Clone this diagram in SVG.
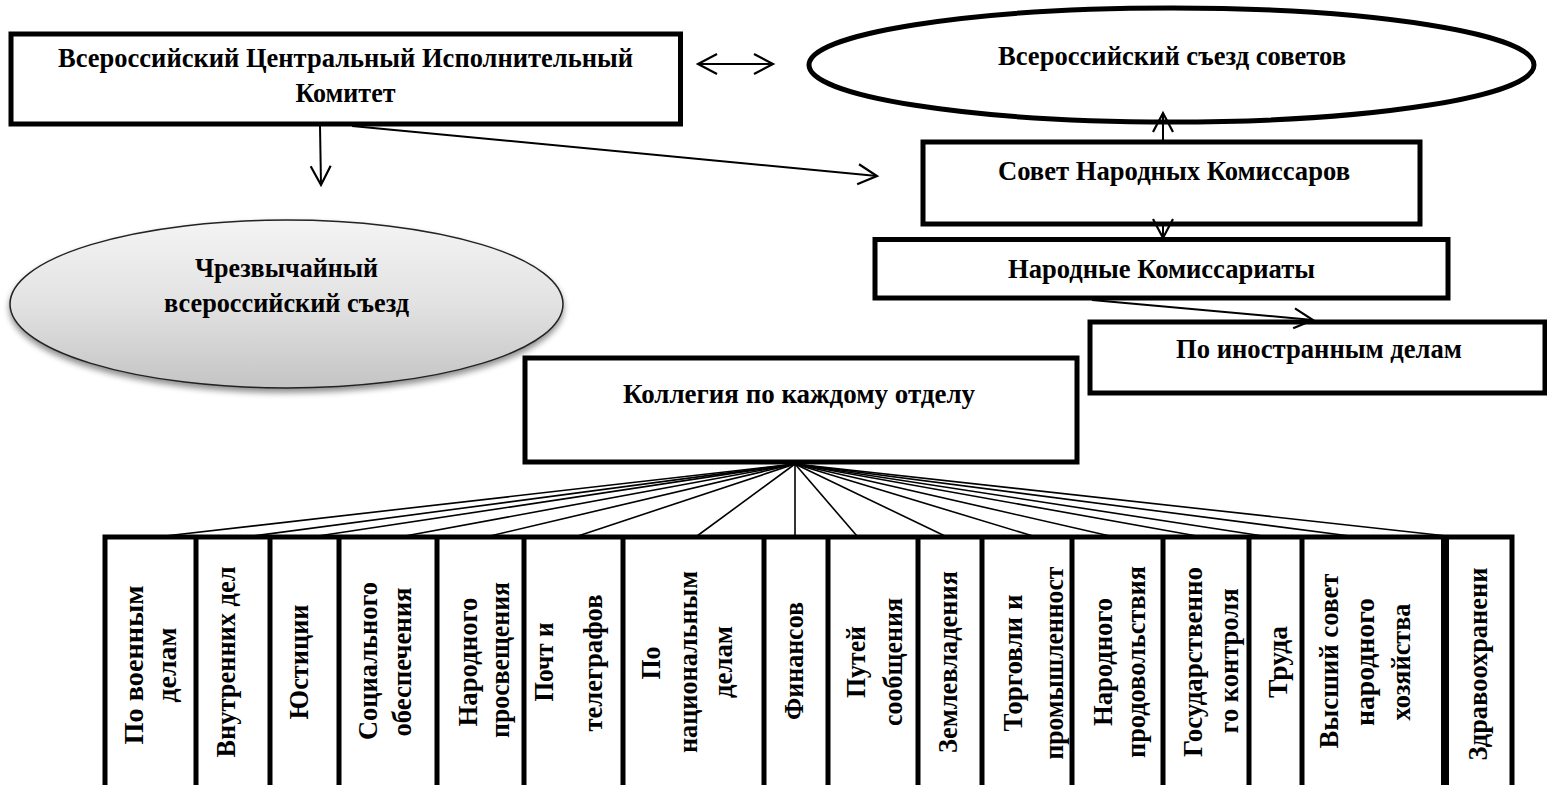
<svg xmlns="http://www.w3.org/2000/svg" width="1547" height="785" viewBox="0 0 1547 785">
<style>
text{font-family:"Liberation Serif","Times New Roman","DejaVu Serif",serif;font-weight:bold;font-size:27px;fill:#000;text-anchor:middle}
.box{fill:#fff;stroke:#000;stroke-width:5}
.conn{fill:none;stroke:#000;stroke-width:2}
.fan{fill:none;stroke:#000;stroke-width:1.6}
.col{fill:none;stroke:#000;stroke-width:5}
</style>
<defs>
<marker id="ah" markerUnits="userSpaceOnUse" markerWidth="24" markerHeight="24" viewBox="0 0 24 24" refX="21" refY="12" orient="auto-start-reverse">
<path d="M2,2 L21,12 L2,22" fill="none" stroke="#000" stroke-width="2.2"/>
</marker>
<linearGradient id="grey" x1="0" y1="0" x2="0" y2="1">
<stop offset="0" stop-color="#f4f4f4"/>
<stop offset="0.5" stop-color="#e2e2e2"/>
<stop offset="1" stop-color="#c4c4c4"/>
</linearGradient>
<filter id="shadow" x="-10%" y="-10%" width="120%" height="130%">
<feGaussianBlur in="SourceAlpha" stdDeviation="3"/>
<feOffset dx="0" dy="4" result="b"/>
<feComponentTransfer><feFuncA type="linear" slope="0.45"/></feComponentTransfer>
<feMerge><feMergeNode/><feMergeNode in="SourceGraphic"/></feMerge>
</filter>
</defs>

<g id="vtsik">
<rect class="box" x="11" y="34" width="669.5" height="90"/>
<text x="345.5" y="67" textLength="575" lengthAdjust="spacingAndGlyphs">Всероссийский Центральный Исполнительный</text>
<text x="345.5" y="102" textLength="100" lengthAdjust="spacingAndGlyphs">Комитет</text>
</g>

<g id="congress">
<ellipse cx="1171.5" cy="65" rx="362.5" ry="57" fill="#fff" stroke="#000" stroke-width="5"/>
<text x="1172" y="65" textLength="348" lengthAdjust="spacingAndGlyphs">Всероссийский съезд советов</text>
</g>

<g id="extraordinary">
<ellipse cx="286.5" cy="304" rx="276.5" ry="84" fill="url(#grey)" stroke="#222" stroke-width="1.5" filter="url(#shadow)"/>
<text x="286.5" y="277" textLength="183" lengthAdjust="spacingAndGlyphs">Чрезвычайный</text>
<text x="286.5" y="312" textLength="245" lengthAdjust="spacingAndGlyphs">всероссийский съезд</text>
</g>

<g id="snk">
<rect class="box" x="923" y="142" width="497" height="82"/>
<text x="1174" y="180" textLength="352" lengthAdjust="spacingAndGlyphs">Совет Народных Комиссаров</text>
</g>

<g id="nk">
<rect class="box" x="875" y="239.5" width="573" height="58.5"/>
<text x="1161.5" y="278" textLength="307" lengthAdjust="spacingAndGlyphs">Народные Комиссариаты</text>
</g>

<g id="foreign">
<rect class="box" x="1090" y="322" width="455" height="71"/>
<text x="1319" y="358" textLength="286" lengthAdjust="spacingAndGlyphs">По иностранным делам</text>
</g>

<g id="collegium">
<rect class="box" x="525" y="358" width="552" height="104" stroke-width="4.5"/>
<text x="799" y="403" textLength="352" lengthAdjust="spacingAndGlyphs">Коллегия по каждому отделу</text>
</g>

<g id="departments">
<path class="col" d="M105,790 V537 H1512 V790 M196,537 V790 M270,537 V790 M339,537 V790 M437,537 V790 M524,537 V790 M623,537 V790 M764,537 V790 M828,537 V790 M918,537 V790 M982,537 V790 M1072,537 V790 M1163,537 V790 M1249,537 V790 M1302,537 V790"/>
<line x1="1445" y1="537" x2="1445" y2="790" stroke="#000" stroke-width="8"/>
<g id="d1"><text transform="rotate(-90 143 665)" x="143" y="665" textLength="159" lengthAdjust="spacingAndGlyphs">По военным</text><text transform="rotate(-90 176 665)" x="176" y="665" textLength="75" lengthAdjust="spacingAndGlyphs">делам</text></g>
<g id="d2"><text transform="rotate(-90 235 662)" x="235" y="662" textLength="191" lengthAdjust="spacingAndGlyphs">Внутренних дел</text></g>
<g id="d3"><text transform="rotate(-90 308 662)" x="308" y="662" textLength="115" lengthAdjust="spacingAndGlyphs">Юстиции</text></g>
<g id="d4"><text transform="rotate(-90 377 661)" x="377" y="661" textLength="158" lengthAdjust="spacingAndGlyphs">Социального</text><text transform="rotate(-90 411 662)" x="411" y="662" textLength="149" lengthAdjust="spacingAndGlyphs">обеспечения</text></g>
<g id="d5"><text transform="rotate(-90 477 662)" x="477" y="662" textLength="129" lengthAdjust="spacingAndGlyphs">Народного</text><text transform="rotate(-90 509 660)" x="509" y="660" textLength="156" lengthAdjust="spacingAndGlyphs">просвещения</text></g>
<g id="d6"><text transform="rotate(-90 553 662)" x="553" y="662" textLength="79" lengthAdjust="spacingAndGlyphs">Почт и</text><text transform="rotate(-90 602 663)" x="602" y="663" textLength="137" lengthAdjust="spacingAndGlyphs">телеграфов</text></g>
<g id="d7"><text transform="rotate(-90 660 663)" x="660" y="663" textLength="33" lengthAdjust="spacingAndGlyphs">По</text><text transform="rotate(-90 697 662)" x="697" y="662" textLength="182" lengthAdjust="spacingAndGlyphs">национальным</text><text transform="rotate(-90 732 662)" x="732" y="662" textLength="72" lengthAdjust="spacingAndGlyphs">делам</text></g>
<g id="d8"><text transform="rotate(-90 803 661)" x="803" y="661" textLength="118" lengthAdjust="spacingAndGlyphs">Финансов</text></g>
<g id="d9"><text transform="rotate(-90 865 662)" x="865" y="662" textLength="72" lengthAdjust="spacingAndGlyphs">Путей</text><text transform="rotate(-90 902 662)" x="902" y="662" textLength="128" lengthAdjust="spacingAndGlyphs">сообщения</text></g>
<g id="d10"><text transform="rotate(-90 957 662)" x="957" y="662" textLength="182" lengthAdjust="spacingAndGlyphs">Землевладения</text></g>
<g id="d11"><text transform="rotate(-90 1022 663)" x="1022" y="663" textLength="137" lengthAdjust="spacingAndGlyphs">Торговли и</text><text transform="rotate(-90 1063 663)" x="1063" y="663" textLength="193" lengthAdjust="spacingAndGlyphs">промышленност</text></g>
<g id="d12"><text transform="rotate(-90 1112 662)" x="1112" y="662" textLength="128" lengthAdjust="spacingAndGlyphs">Народного</text><text transform="rotate(-90 1145 662)" x="1145" y="662" textLength="192" lengthAdjust="spacingAndGlyphs">продовольствия</text></g>
<g id="d13"><text transform="rotate(-90 1202 662)" x="1202" y="662" textLength="190" lengthAdjust="spacingAndGlyphs">Государственно</text><text transform="rotate(-90 1238 661)" x="1238" y="661" textLength="145" lengthAdjust="spacingAndGlyphs">го контроля</text></g>
<g id="d14"><text transform="rotate(-90 1287 662)" x="1287" y="662" textLength="72" lengthAdjust="spacingAndGlyphs">Труда</text></g>
<g id="d15"><text transform="rotate(-90 1338 661)" x="1338" y="661" textLength="175" lengthAdjust="spacingAndGlyphs">Высший совет</text><text transform="rotate(-90 1374 662)" x="1374" y="662" textLength="128" lengthAdjust="spacingAndGlyphs">народного</text><text transform="rotate(-90 1410 662)" x="1410" y="662" textLength="117" lengthAdjust="spacingAndGlyphs">хозяйства</text></g>
<g id="d16"><text transform="rotate(-90 1487 664)" x="1487" y="664" textLength="193" lengthAdjust="spacingAndGlyphs">Здравоохранени</text></g>
</g>

<g id="connectors">
<line class="conn" x1="698" y1="64" x2="773" y2="64" marker-start="url(#ah)" marker-end="url(#ah)"/>
<line class="conn" x1="320" y1="126" x2="321" y2="185" marker-end="url(#ah)"/>
<line class="conn" x1="352" y1="126" x2="877" y2="176" stroke-width="2.5" marker-end="url(#ah)"/>
<line class="conn" x1="1163" y1="140" x2="1163" y2="113" stroke-width="3" marker-end="url(#ah)"/>
<line class="conn" x1="1163" y1="226" x2="1163" y2="238" stroke-width="3" marker-end="url(#ah)"/>
<line class="conn" x1="1092" y1="300" x2="1313" y2="320" stroke-width="3" marker-end="url(#ah)"/>
<g id="fan">
<line class="fan" x1="795" y1="464" x2="165" y2="536"/>
<line class="fan" x1="795" y1="464" x2="253" y2="536"/>
<line class="fan" x1="795" y1="464" x2="318" y2="536"/>
<line class="fan" x1="795" y1="464" x2="405" y2="536"/>
<line class="fan" x1="795" y1="464" x2="490" y2="536"/>
<line class="fan" x1="795" y1="464" x2="578" y2="536"/>
<line class="fan" x1="795" y1="464" x2="697" y2="536"/>
<line class="fan" x1="795" y1="464" x2="795" y2="536"/>
<line class="fan" x1="795" y1="464" x2="857" y2="536"/>
<line class="fan" x1="795" y1="464" x2="945" y2="536"/>
<line class="fan" x1="795" y1="464" x2="1033" y2="536"/>
<line class="fan" x1="795" y1="464" x2="1110" y2="536"/>
<line class="fan" x1="795" y1="464" x2="1197" y2="536"/>
<line class="fan" x1="795" y1="464" x2="1263" y2="536"/>
<line class="fan" x1="795" y1="464" x2="1350" y2="536"/>
<line class="fan" x1="795" y1="464" x2="1447" y2="536"/>
</g>
</g>
</svg>
